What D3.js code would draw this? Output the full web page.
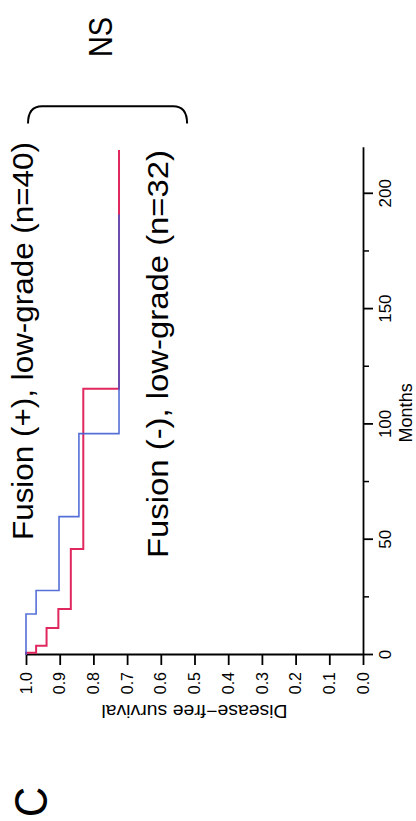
<!DOCTYPE html>
<html><head><meta charset="utf-8">
<script src="https://cdn.jsdelivr.net/npm/d3@7"></script>
<style>html,body{margin:0;padding:0;background:#fff;}svg{display:block;}</style>
</head><body>
<script>
// ---- data ----
const monthTicks = [0, 50, 100, 150, 200];
const monthMinorTicks = [25, 75, 125, 175];
const survTicks = [0.0, 0.1, 0.2, 0.3, 0.4, 0.5, 0.6, 0.7, 0.8, 0.9, 1.0];
const blueTimes = [0, 17.8, 28, 60, 96, 191];
const blueSurv  = [1.0, 0.970, 0.902, 0.843, 0.724, 0.724];
const redTimes  = [0, 1, 4, 11.7, 20, 46, 115.5, 219];
const redSurv   = [1.0, 0.970, 0.939, 0.904, 0.867, 0.830, 0.724, 0.724];
const labelPlus  = "Fusion (+), low-grade (n=40)";
const labelMinus = "Fusion (-), low-grade (n=32)";
const xTitle = "Months";
const yTitle = "Disease\u2212free survival";
const panelLetter = "C";
const sigText = "NS";

const W = 416, H = 821;
const font = "'Liberation Sans', Arial, Helvetica, sans-serif";
const svg = d3.select("body").append("svg").attr("width", W).attr("height", H);
svg.append("rect").attr("width", W).attr("height", H).attr("fill", "#fff");

// whole figure is rotated -90deg: local (u,v) -> screen (v, H-u)
const g = svg.append("g").attr("transform", `translate(0,${H}) rotate(-90)`)
  .style("font-family", font);

const x = d3.scaleLinear().domain([0, 220]).range([166, 166 + 220 * 2.306]);
const y = d3.scaleLinear().domain([0, 1]).range([363, 26]);

// x axis (months)
const xa = g.append("g").attr("transform", `translate(0,${y(0)})`)
  .call(d3.axisBottom(x).tickValues(monthTicks).tickSize(10).tickSizeOuter(0).tickPadding(6));
xa.select(".domain").attr("stroke-width", 1.8);
xa.selectAll(".tick line").attr("stroke-width", 1.8);
xa.selectAll("text").style("font-size", "17px").attr("fill", "#000");
const xm = g.append("g").attr("transform", `translate(0,${y(0)})`)
  .call(d3.axisBottom(x).tickValues(monthMinorTicks).tickSize(6).tickFormat(""));
xm.select(".domain").remove();
xm.selectAll(".tick line").attr("stroke-width", 1.5);

// y axis (survival)
const ya = g.append("g").attr("transform", `translate(${x(0)},0)`)
  .call(d3.axisLeft(y).tickValues(survTicks).tickFormat(d3.format(".1f")).tickSize(10).tickSizeOuter(0).tickPadding(7));
ya.select(".domain").attr("stroke-width", 1.8);
ya.selectAll(".tick line").attr("stroke-width", 1.8);
ya.selectAll("text").style("font-size", "16px").attr("fill", "#000");

// axis titles
g.append("text").attr("x", x(105)).attr("y", 412).attr("text-anchor", "middle")
  .style("font-size", "18px").text(xTitle);
g.append("text").attr("transform", `translate(116,${y(0.5)}) rotate(-90)`)
  .attr("text-anchor", "middle").style("font-size", "19px")
  .attr("textLength", 186).attr("lengthAdjust", "spacingAndGlyphs").text(yTitle);

// curves
const line = d3.line().x(d => x(d[0])).y(d => y(d[1])).curve(d3.curveStepAfter);
const redPts = redTimes.map((t, i) => [t, redSurv[i]]);
const bluePts = blueTimes.map((t, i) => [t, blueSurv[i]]);
g.append("path").attr("d", line(redPts)).attr("fill", "none")
  .attr("stroke", "#e0285e").attr("stroke-width", 2);
g.append("path").attr("d", line(bluePts)).attr("fill", "none")
  .attr("stroke", "#3d5bd2").attr("stroke-opacity", 0.88).attr("stroke-width", 1.6);

// curve labels
g.append("text").attr("x", 281).attr("y", 33).style("font-size", "30px")
  .attr("textLength", 398).attr("lengthAdjust", "spacingAndGlyphs").text(labelPlus);
g.append("text").attr("x", 263).attr("y", 168).style("font-size", "29px")
  .attr("textLength", 408).attr("lengthAdjust", "spacingAndGlyphs").text(labelMinus);

// bracket
const bu = x(238), ba = x(230.5), bv0 = y(0.994), bv1 = y(0.522);
g.append("path")
  .attr("d", `M${ba},${bv0} Q${bu},${bv0} ${bu},${bv0 + 14} L${bu},${bv1 - 14} Q${bu},${bv1} ${ba},${bv1}`)
  .attr("fill", "none").attr("stroke", "#000").attr("stroke-width", 2);

// NS
g.append("text").attr("x", x(268)).attr("y", 112).attr("text-anchor", "middle")
  .style("font-size", "34px").attr("textLength", 40).attr("lengthAdjust", "spacingAndGlyphs").text(sigText);

// panel letter
g.append("text").attr("x", 19).attr("y", 47).attr("text-anchor", "middle")
  .style("font-size", "46px").attr("textLength", 30).attr("lengthAdjust", "spacingAndGlyphs").text(panelLetter);
</script>
</body></html>
